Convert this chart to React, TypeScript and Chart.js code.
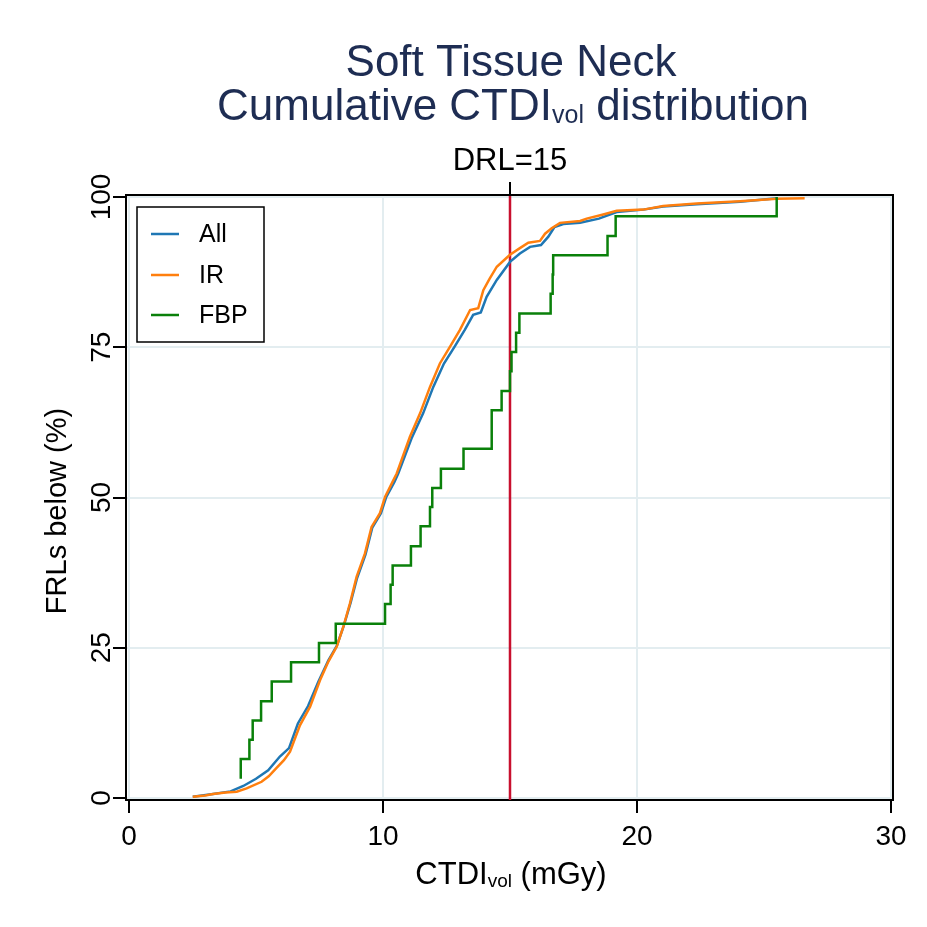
import React, { useEffect, useRef } from "react";
import { Chart, registerables } from "chart.js";

Chart.register(...registerables);

// ---------- text ----------
const titleLine1 = "Soft Tissue Neck";
const titleLine2Pre = "Cumulative CTDI";
const titleLine2Sub = "vol";
const titleLine2Post = " distribution";
const xTitlePre = "CTDI";
const xTitleSub = "vol";
const xTitlePost = " (mGy)";
const yTitle = "FRLs below (%)";
const drlValue = 15;
const drlLabel = "DRL=15";
const seriesLabels = ["All", "IR", "FBP"];

// ---------- ticks ----------
const xTicks = [0, 10, 20, 30];
const yTicks = [0, 25, 50, 75, 100];

// ---------- data (CTDIvol in mGy, cumulative % of FRLs below) ----------
const allX = [2.51, 3.31, 4.0, 4.5, 5.0, 5.48, 5.94, 6.3, 6.65, 7.05, 7.45, 7.85, 8.18, 8.45, 8.72, 8.98, 9.31, 9.58, 9.92, 10.12, 10.45, 10.6, 11.14, 11.58, 11.98, 12.4, 12.82, 13.22, 13.55, 13.85, 14.08, 14.48, 15.0, 15.39, 15.79, 16.22, 16.51, 16.75, 17.1, 17.76, 18.5, 19.2, 20.25, 21.03, 22.35, 24.06, 25.5];
const allY = [0.2, 0.67, 1.1, 2.0, 3.2, 4.6, 6.9, 8.3, 12.4, 15.3, 19.3, 22.9, 25.3, 28.6, 32.4, 36.6, 40.5, 45.0, 47.4, 50.0, 52.6, 54.0, 60.0, 64.0, 68.4, 72.3, 75.1, 77.9, 80.4, 80.8, 83.4, 86.2, 89.2, 90.6, 91.7, 92.0, 93.4, 95.0, 95.5, 95.7, 96.4, 97.5, 97.9, 98.4, 98.8, 99.2, 99.8];

const irX = [2.51, 3.0, 3.31, 3.8, 4.24, 4.63, 5.22, 5.5, 5.81, 6.1, 6.34, 6.73, 7.13, 7.52, 7.85, 8.18, 8.44, 8.7, 8.96, 9.29, 9.55, 9.88, 10.08, 10.41, 10.54, 11.06, 11.46, 11.85, 12.24, 12.64, 13.03, 13.43, 13.75, 13.95, 14.2, 14.48, 14.87, 15.0, 15.39, 15.72, 16.18, 16.38, 16.64, 16.97, 17.76, 18.02, 18.67, 19.2, 20.25, 21.03, 22.35, 24.06, 25.5, 26.6];
const irY = [0.2, 0.4, 0.67, 0.9, 1.05, 1.6, 2.7, 3.6, 5.0, 6.3, 7.7, 12.1, 15.2, 19.6, 22.7, 25.2, 28.5, 32.4, 36.8, 40.7, 45.1, 47.4, 50.1, 52.9, 54.0, 60.1, 64.0, 68.4, 72.3, 75.1, 77.9, 81.2, 81.5, 84.5, 86.4, 88.4, 89.9, 90.4, 91.5, 92.4, 92.7, 93.9, 94.8, 95.7, 96.0, 96.4, 97.1, 97.7, 97.9, 98.5, 98.9, 99.3, 99.7, 99.8];

const fbpX = [4.4, 4.4, 4.74, 4.87, 5.2, 5.62, 6.38, 7.48, 8.14, 10.08, 10.3, 10.38, 11.1, 11.48, 11.85, 11.94, 12.28, 13.17, 14.28, 14.28, 14.67, 15.0, 15.06, 15.24, 15.37, 16.6, 16.68, 16.7, 18.84, 19.16, 25.5];
const fbpY = [3.2, 6.5, 9.7, 12.9, 16.1, 19.4, 22.6, 25.8, 29.0, 32.3, 35.5, 38.7, 41.9, 45.2, 48.4, 51.6, 54.8, 58.1, 61.3, 64.5, 67.7, 71.0, 74.2, 77.4, 80.6, 83.9, 87.1, 90.3, 93.5, 96.8, 100];

// ---------- styles ----------
const FONT = '"Liberation Sans", Arial, Helvetica, sans-serif';
const COLORS = ["#1f77b4", "#ff7f0e", "#0a800a"];
const TITLE_COLOR = "#1e2d53";
const DRL_COLOR = "#c8102e";
const GRID_COLOR = "#e3edf0";

function drawSubText(
  ctx: CanvasRenderingContext2D,
  pre: string,
  sub: string,
  post: string,
  cx: number,
  baseline: number,
  size: number,
  subSize: number,
  subDrop: number,
  color: string
) {
  ctx.save();
  ctx.fillStyle = color;
  ctx.textBaseline = "alphabetic";
  ctx.textAlign = "left";
  ctx.font = `${size}px ${FONT}`;
  const w1 = ctx.measureText(pre).width;
  const w3 = ctx.measureText(post).width;
  ctx.font = `${subSize}px ${FONT}`;
  const w2 = ctx.measureText(sub).width;
  let x = cx - (w1 + w2 + w3) / 2;
  ctx.font = `${size}px ${FONT}`;
  ctx.fillText(pre, x, baseline);
  x += w1;
  ctx.font = `${subSize}px ${FONT}`;
  ctx.fillText(sub, x, baseline + subDrop);
  x += w2;
  ctx.font = `${size}px ${FONT}`;
  ctx.fillText(post, x, baseline);
  ctx.restore();
}

const overlayPlugin = {
  id: "overlay",
  beforeDatasetsDraw(chart: any) {
    const { ctx, chartArea, scales } = chart;
    const x = scales.x.getPixelForValue(drlValue);
    ctx.save();
    ctx.strokeStyle = DRL_COLOR;
    ctx.lineWidth = 2.5;
    ctx.beginPath();
    ctx.moveTo(x, chartArea.top);
    ctx.lineTo(x, chartArea.bottom);
    ctx.stroke();
    ctx.restore();
  },
  afterDraw(chart: any) {
    const { ctx, chartArea, scales } = chart;
    const xs = scales.x;
    const ys = scales.y;
    ctx.save();
    // top and right frame
    ctx.strokeStyle = "#000";
    ctx.lineWidth = 2;
    ctx.beginPath();
    ctx.moveTo(chartArea.left - 1, chartArea.top);
    ctx.lineTo(chartArea.right, chartArea.top);
    ctx.lineTo(chartArea.right, chartArea.bottom + 1);
    ctx.stroke();

    // DRL top tick + label
    const dx = xs.getPixelForValue(drlValue);
    ctx.beginPath();
    ctx.moveTo(dx, chartArea.top);
    ctx.lineTo(dx, chartArea.top - 13);
    ctx.stroke();
    ctx.fillStyle = "#000";
    ctx.font = `31px ${FONT}`;
    ctx.textAlign = "center";
    ctx.textBaseline = "alphabetic";
    ctx.fillText(drlLabel, dx, 170);

    // titles
    ctx.fillStyle = TITLE_COLOR;
    ctx.font = `44px ${FONT}`;
    ctx.fillText(titleLine1, 511, 76);
    drawSubText(ctx, titleLine2Pre, titleLine2Sub, titleLine2Post, 513, 120, 44, 25, 3, TITLE_COLOR);

    // y tick labels (rotated)
    ctx.fillStyle = "#000";
    ctx.font = `28px ${FONT}`;
    for (const t of ys.ticks) {
      const py = ys.getPixelForValue(t.value);
      ctx.save();
      ctx.translate(110, py);
      ctx.rotate(-Math.PI / 2);
      ctx.textAlign = "center";
      ctx.textBaseline = "alphabetic";
      ctx.fillText(String(t.value), 0, 0);
      ctx.restore();
    }

    // y title
    ctx.save();
    ctx.translate(66, 511);
    ctx.rotate(-Math.PI / 2);
    ctx.font = `29px ${FONT}`;
    ctx.textAlign = "center";
    ctx.textBaseline = "alphabetic";
    ctx.fillText(yTitle, 0, 0);
    ctx.restore();

    // x title
    drawSubText(ctx, xTitlePre, xTitleSub, xTitlePost, 511, 884, 31, 19, 3, "#000");

    // legend
    const lx = 137, ly = 207, lw = 127, lh = 135;
    ctx.fillStyle = "#fff";
    ctx.fillRect(lx, ly, lw, lh);
    ctx.strokeStyle = "#000";
    ctx.lineWidth = 1.5;
    ctx.strokeRect(lx, ly, lw, lh);
    const rows = [234, 275, 315];
    chart.data.datasets.forEach((ds: any, i: number) => {
      const y = rows[i];
      ctx.strokeStyle = ds.borderColor;
      ctx.lineWidth = 2.5;
      ctx.beginPath();
      ctx.moveTo(151, y);
      ctx.lineTo(179, y);
      ctx.stroke();
      ctx.fillStyle = "#000";
      ctx.font = `25px ${FONT}`;
      ctx.textAlign = "left";
      ctx.textBaseline = "middle";
      ctx.fillText(ds.label, 199, y + 1);
    });
    ctx.restore();
  },
};

function toPoints(xs: number[], ys: number[]) {
  return xs.map((x, i) => ({ x, y: ys[i] }));
}

export default function App() {
  const ref = useRef<HTMLCanvasElement>(null);
  useEffect(() => {
    const canvas = ref.current;
    if (!canvas) return;
    const chart = new Chart(canvas, {
      type: "line",
      data: {
        datasets: [
          {
            label: seriesLabels[0],
            data: toPoints(allX, allY),
            borderColor: COLORS[0],
            borderWidth: 2.5,
            pointRadius: 0,
            tension: 0,
            order: 2,
          },
          {
            label: seriesLabels[1],
            data: toPoints(irX, irY),
            borderColor: COLORS[1],
            borderWidth: 2.5,
            pointRadius: 0,
            tension: 0,
            order: 1,
          },
          {
            label: seriesLabels[2],
            data: toPoints(fbpX, fbpY),
            borderColor: COLORS[2],
            borderWidth: 2.5,
            pointRadius: 0,
            stepped: "before",
            order: 0,
          },
        ],
      } as any,
      options: {
        responsive: false,
        animation: false,
        devicePixelRatio: 1,
        layout: { padding: { left: 0, right: 34, top: 195, bottom: 0 } },
        plugins: {
          legend: { display: false },
          title: { display: false },
          tooltip: { enabled: false },
        },
        scales: {
          x: {
            type: "linear",
            min: -0.118,
            max: 30.079,
            afterBuildTicks: (s: any) => {
              s.ticks = xTicks.map((v) => ({ value: v }));
            },
            afterFit: (s: any) => {
              s.height = 127;
            },
            grid: {
              color: GRID_COLOR,
              lineWidth: 2,
              tickColor: "#000",
              tickLength: 13,
              tickWidth: 2,
            },
            border: { color: "#000", width: 2 },
            ticks: {
              font: { family: FONT, size: 28 },
              color: "#000",
              padding: 7,
              maxRotation: 0,
              autoSkip: false,
            },
          },
          y: {
            type: "linear",
            min: -0.333,
            max: 100.333,
            afterBuildTicks: (s: any) => {
              s.ticks = yTicks.map((v) => ({ value: v }));
            },
            afterFit: (s: any) => {
              s.width = 126;
            },
            grid: {
              color: GRID_COLOR,
              lineWidth: 2,
              tickColor: "#000",
              tickLength: 13,
              tickWidth: 2,
            },
            border: { color: "#000", width: 2 },
            ticks: { display: false },
          },
        },
      } as any,
      plugins: [overlayPlugin],
    });
    return () => chart.destroy();
  }, []);
  return (
    <div
      style={{
        position: "absolute",
        left: 0,
        top: 0,
        width: 927,
        height: 927,
        background: "#fff",
      }}
    >
      <canvas ref={ref} width={927} height={927} style={{ width: 927, height: 927 }} />
    </div>
  );
}
